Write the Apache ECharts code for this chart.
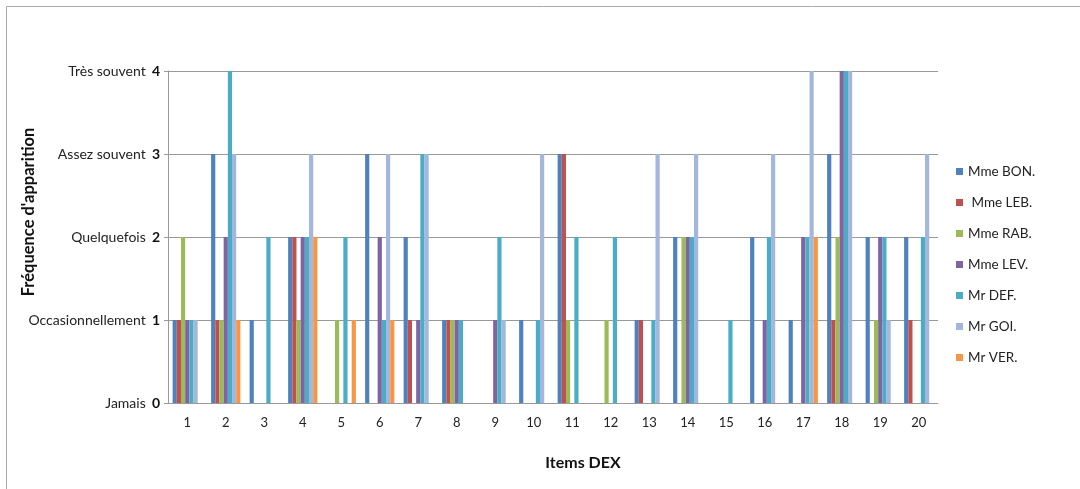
<!DOCTYPE html>
<html><head><meta charset="utf-8">
<script src="https://cdn.jsdelivr.net/npm/echarts@6/dist/echarts.min.js"></script>
<style>html,body{margin:0;padding:0;background:#fff}#c{width:1080px;height:489px}</style>
</head><body><div id="c"></div>
<script>
const categories = ['1','2','3','4','5','6','7','8','9','10','11','12','13','14','15','16','17','18','19','20'];
const yTickNames = ['Jamais','Occasionnellement','Quelquefois','Assez souvent','Très souvent'];
const seriesNames = ['Mme BON.',' Mme LEB.','Mme RAB.','Mme LEV.','Mr DEF.','Mr GOI.','Mr VER.'];
const bon = [1,3,1,2,0,3,2,1,0,1,3,0,1,2,0,2,1,3,2,2];
const leb = [1,1,0,2,0,0,1,1,0,0,3,0,1,0,0,0,0,1,0,1];
const rab = [2,1,0,1,1,0,0,1,0,0,1,1,0,2,0,0,0,2,1,0];
const lev = [1,2,0,2,0,2,1,1,1,0,0,0,0,2,0,1,2,4,2,0];
const def = [1,4,2,2,2,1,3,1,2,1,2,2,1,2,1,2,2,4,2,2];
const goi = [1,3,0,3,0,3,3,0,1,3,0,0,3,3,0,3,4,4,1,3];
const ver = [0,1,0,2,1,1,0,0,0,0,0,0,0,0,0,0,2,0,0,0];
const seriesData = [bon, leb, rab, lev, def, goi, ver];
const colors = ['#4F81BD','#C0504D','#9BBB59','#8064A2','#4BACC6','#A3B6DC','#F79646'];

const chart = echarts.init(document.getElementById('c'));
const font = 'Lato, "Open Sans", sans-serif';
chart.setOption({
  animation: false,
  textStyle: { fontFamily: font },
  graphic: [
    { type: 'line', shape: { x1: 6.5, y1: 6.5, x2: 1080, y2: 6.5 }, style: { stroke: '#aaa', lineWidth: 1 } },
    { type: 'line', shape: { x1: 6.5, y1: 6.5, x2: 6.5, y2: 489 }, style: { stroke: '#aaa', lineWidth: 1 } }
  ],
  grid: { left: 168, right: 142, top: 71, bottom: 86, containLabel: false, outerBoundsMode: 'none' },
  legend: {
    orient: 'vertical', left: 951, top: 159,
    itemWidth: 7, itemHeight: 7, itemGap: 16, icon: 'rect',
    textStyle: { fontSize: 13.5, color: '#222', fontFamily: font, lineHeight: 15 },
    data: seriesNames
  },
  xAxis: {
    type: 'category', data: categories,
    name: 'Items DEX', nameLocation: 'middle', nameGap: 52,
    nameTextStyle: { fontSize: 16, fontWeight: 'bold', color: '#111', fontFamily: font, padding: [0, 0, 0, 60] },
    axisLine: { lineStyle: { color: '#999' } },
    axisTick: { show: false },
    axisLabel: { fontSize: 13, color: '#222', margin: 13 }
  },
  yAxis: {
    type: 'value', min: 0, max: 4, interval: 1,
    name: "Fréquence d'apparition", nameLocation: 'middle', nameGap: 131, nameMoveOverlap: false,
    nameTextStyle: { fontSize: 16.5, fontWeight: 'bold', color: '#111', fontFamily: font, padding: [0, 0, 0, 50] },
    axisLine: { show: true, lineStyle: { color: '#999' } },
    axisTick: { show: true, length: 4, lineStyle: { color: '#999' } },
    splitLine: { lineStyle: { color: '#999' } },
    axisLabel: {
      margin: 8,
      formatter: v => '{n|' + yTickNames[v] + '}  {b|' + v + '}',
      rich: {
        n: { fontSize: 14, color: '#222', fontFamily: font },
        b: { fontSize: 14, color: '#111', fontWeight: 'bold', fontFamily: font }
      }
    }
  },
  series: seriesNames.map((n, i) => ({
    name: n, type: 'bar', data: seriesData[i],
    barGap: '0%', barCategoryGap: '24%',
    itemStyle: { color: colors[i] }
  }))
});
</script></body></html>
